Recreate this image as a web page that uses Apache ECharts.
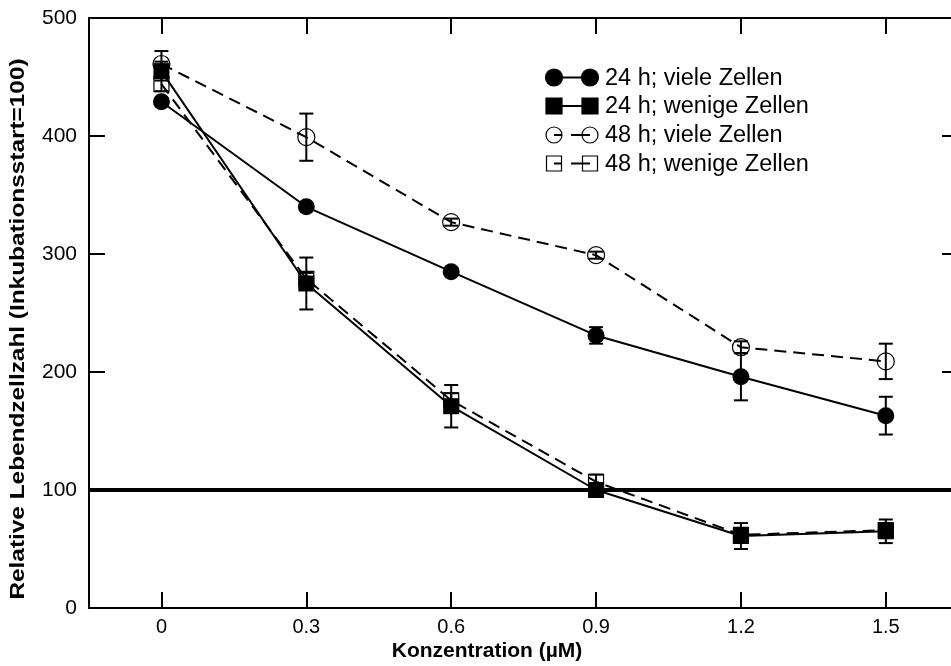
<!DOCTYPE html>
<html>
<head>
<meta charset="utf-8">
<script src="https://cdn.jsdelivr.net/npm/echarts@6/dist/echarts.min.js"></script>
<style>html,body{margin:0;padding:0;background:#fff}#c{width:951px;height:666px}</style>
</head>
<body>
<div id="c"></div>
<script>
// ---- data ----
const conc = [0, 0.3, 0.6, 0.9, 1.2, 1.5];
const xTickLabels = ['0', '0.3', '0.6', '0.9', '1.2', '1.5'];
const yTicks = [0, 100, 200, 300, 400, 500];

const viele24 = [429, 340, 285, 231, 196, 163];
const viele24Err = [3, 3, 3, 7, 20, 16];
const wenige24 = [455, 275, 171, 100, 61, 65];
const wenige24Err = [8, 22, 18, 5, 11, 10];
const viele48 = [461, 399, 327, 299, 221, 209];
const viele48Err = [11, 20, 3, 3, 5, 15];
const wenige48 = [444, 279, 176, 107, 62, 66];
const wenige48Err = [6, 5, 6, 6, 5, 6];

const referenceLevel = 100;
const seriesNames = ['24 h; viele Zellen', '24 h; wenige Zellen', '48 h; viele Zellen', '48 h; wenige Zellen'];
const xTitle = 'Konzentration (\u00b5M)';
const yTitle = 'Relative Lebendzellzahl (Inkubationsstart=100)';

// ---- chart ----
const FONT = '"Liberation Sans", Arial, sans-serif';
const pts = v => conc.map((x, i) => [x, v[i]]);
const errs = (v, e) => conc.map((x, i) => [x, v[i] - e[i], v[i] + e[i]]);

function errRender(params, api) {
  const x = api.value(0), lo = api.value(1), hi = api.value(2);
  const a = api.coord([x, lo]), b = api.coord([x, hi]);
  const hw = 7;
  const st = { stroke: '#000', lineWidth: 2 };
  return {
    type: 'group',
    children: [
      { type: 'line', shape: { x1: a[0], y1: a[1], x2: b[0], y2: b[1] }, style: st },
      { type: 'line', shape: { x1: a[0] - hw, y1: a[1], x2: a[0] + hw, y2: a[1] }, style: st },
      { type: 'line', shape: { x1: b[0] - hw, y1: b[1], x2: b[0] + hw, y2: b[1] }, style: st }
    ]
  };
}
function errSeries(v, e) {
  return { type: 'custom', renderItem: errRender, data: errs(v, e), encode: { x: 0, y: [1, 2] }, z: 5, silent: true };
}

const dash = [12, 7];
const solidLine = { color: '#000', width: 2, type: 'solid' };
const dashLine = { color: '#000', width: 2, type: dash };

const xCommon = {
  type: 'value', min: -0.15, max: 1.635,
  axisLine: { show: true, onZero: false, lineStyle: { color: '#000', width: 2 } },
  splitLine: { show: false }
};
const yCommon = {
  type: 'value', min: 0, max: 500, interval: 100,
  axisLine: { show: true, onZero: false, lineStyle: { color: '#000', width: 2 } },
  splitLine: { show: false },
  axisTick: { show: true, inside: true, length: 16, lineStyle: { color: '#000', width: 2 } }
};

const chart = echarts.init(document.getElementById('c'));

// legend graphics
const lx1 = 554, lx2 = 590, ltx = 605;
const lrows = [77.5, 106, 135, 163.5];
const legendGfx = [];
lrows.forEach((y, i) => {
  const isDash = i >= 2;
  const isCircle = i % 2 === 0;
  legendGfx.push({ type: 'line', shape: { x1: lx1, y1: y, x2: lx2, y2: y },
    style: { stroke: '#000', lineWidth: 2, lineDash: isDash ? [8, 9, 19, 40] : null } });
  [lx1, lx2].forEach(cx => {
    if (isCircle) {
      legendGfx.push({ type: 'circle', shape: { cx: cx, cy: y, r: isDash ? 8 : 8.5 },
        style: { fill: isDash ? 'rgba(0,0,0,0)' : '#000', stroke: '#000', lineWidth: 1.2 } });
    } else {
      const s = isDash ? 15 : 16;
      legendGfx.push({ type: 'rect', shape: { x: cx - s / 2, y: y - s / 2, width: s, height: s },
        style: { fill: isDash ? 'rgba(0,0,0,0)' : '#000', stroke: '#000', lineWidth: 1.2 } });
    }
  });
  legendGfx.push({ type: 'text', style: { x: ltx, y: y + 1, text: seriesNames[i], fill: '#000',
    font: '23.5px ' + FONT, textVerticalAlign: 'middle', textAlign: 'left' } });
});
legendGfx.push({ type: 'text', style: { x: 487, y: 651, text: xTitle, fill: '#000',
  font: 'bold 21px ' + FONT, textAlign: 'center', textVerticalAlign: 'middle' } });
legendGfx.push({ type: 'text', x: 19, y: 329, rotation: Math.PI / 2, scaleX: 1.25, scaleY: 1,
  style: { x: 0, y: 0, text: yTitle, fill: '#000', font: 'bold 19.5px ' + FONT,
    textAlign: 'center', textVerticalAlign: 'middle' } });

chart.setOption({
  animation: false,
  backgroundColor: '#fff',
  textStyle: { fontFamily: FONT },
  grid: { left: 89, top: 18, width: 862, height: 590, containLabel: false },
  xAxis: [
    Object.assign({}, xCommon, {
      position: 'bottom',
      axisTick: { show: true, inside: true, length: 16, customValues: conc, lineStyle: { color: '#000', width: 2 } },
      axisLabel: { show: true, customValues: conc, color: '#000', fontSize: 20, margin: 9,
        formatter: v => { const i = conc.findIndex(c => Math.abs(c - v) < 1e-9); return i >= 0 ? xTickLabels[i] : ''; } }
    }),
    Object.assign({}, xCommon, {
      position: 'top',
      axisTick: { show: true, inside: true, length: 16, customValues: conc, lineStyle: { color: '#000', width: 2 } },
      axisLabel: { show: false }
    })
  ],
  yAxis: [
    Object.assign({}, yCommon, {
      position: 'left',
      axisLabel: { show: true, color: '#000', fontSize: 21, margin: 12,
        formatter: v => String(yTicks[yTicks.indexOf(v)]) }
    }),
    Object.assign({}, yCommon, {
      position: 'right', axisLabel: { show: false },
      axisLine: { show: false, onZero: false },
      axisTick: { show: true, inside: true, length: 9, lineStyle: { color: '#000', width: 2 } }
    })
  ],
  series: [
    { name: seriesNames[0], type: 'line', data: pts(viele24), symbol: 'circle', symbolSize: 17,
      lineStyle: solidLine, itemStyle: { color: '#000' }, z: 4,
      markLine: { silent: true, symbol: 'none', label: { show: false },
        lineStyle: { color: '#000', width: 4, type: 'solid' }, data: [{ yAxis: referenceLevel }] } },
    { name: seriesNames[1], type: 'line', data: pts(wenige24), symbol: 'rect', symbolSize: 16,
      lineStyle: solidLine, itemStyle: { color: '#000' }, z: 4 },
    { name: seriesNames[2], type: 'line', data: pts(viele48), symbol: 'circle', symbolSize: 17,
      lineStyle: dashLine, itemStyle: { color: 'rgba(0,0,0,0)', borderColor: '#000', borderWidth: 1.2 }, z: 3 },
    { name: seriesNames[3], type: 'line', data: pts(wenige48), symbol: 'rect', symbolSize: 15,
      lineStyle: dashLine, itemStyle: { color: 'rgba(0,0,0,0)', borderColor: '#000', borderWidth: 1.2 }, z: 3 },
    errSeries(viele24, viele24Err),
    errSeries(wenige24, wenige24Err),
    errSeries(viele48, viele48Err),
    errSeries(wenige48, wenige48Err)
  ],
  graphic: legendGfx
});
</script>
</body>
</html>
